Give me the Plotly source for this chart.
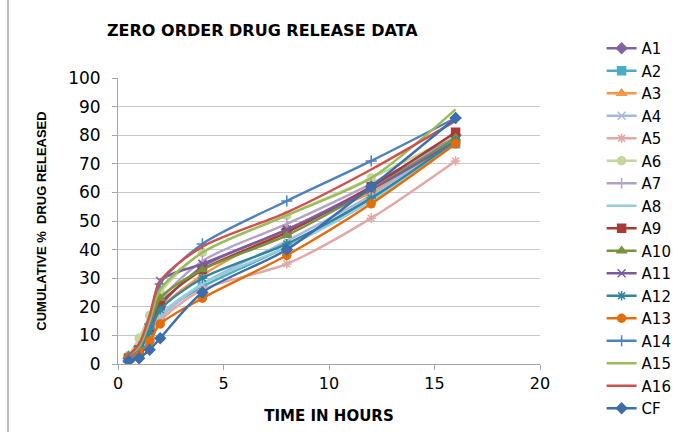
import plotly.graph_objects as go

time_h = [0.5, 1, 1.5, 2, 4, 8, 12, 16]

series_names = ["A1", "A2", "A3", "A4", "A5", "A6", "A7", "A8", "A9",
                "A10", "A11", "A12", "A13", "A14", "A15", "A16", "CF"]

A1 = [2, 5, 11, 20, 34, 47, 62, 80]
A2 = [2, 4, 9, 17, 27, 41, 58, 77]
A3 = [2, 5, 10, 19, 31, 47, 60, 78]
A4 = [2, 4, 9, 16, 28, 43, 59, 79]
A5 = [2, 4, 8, 15, 26, 35, 51, 71]
A6 = [3, 9, 17, 25, 39, 52, 65, 80]
A7 = [2, 5, 12, 22, 36, 49, 63, 79]
A8 = [2, 4, 9, 17, 28, 41, 57, 78]
A9 = [2, 5, 12, 21, 33, 46, 62, 81]
A10 = [3, 6, 13, 23, 33, 45, 61, 79]
A11 = [2, 5, 12, 29, 35, 47, 61, 78]
A12 = [2, 5, 11, 19, 30, 42, 58, 78]
A13 = [2, 4, 8, 14, 23, 38, 56, 77]
A14 = [2, 6, 14, 28, 42, 57, 71, 86]
A15 = [3, 6, 15, 26, 39, 52, 65, 89]
A16 = [3, 7, 17, 29, 41, 53, 68, 85]
CF = [1, 2, 5, 9, 25, 40, 62, 86]

values = [A1, A2, A3, A4, A5, A6, A7, A8, A9, A10, A11, A12, A13, A14, A15, A16, CF]

colors = ["#8064A2", "#4BACC6", "#F79646", "#A7B9DA", "#E0A8A6", "#C3D69B",
          "#B3A2C7", "#93CDDD", "#A83A37", "#77933C", "#7A5C9E", "#31859C",
          "#E46C0A", "#4F81BD", "#9BBB59", "#D0504D", "#3D6DAA"]
symbols = ["diamond", "square", "triangle-up", "x-thin-open", "asterisk-open",
           "circle", "line-ns-open", None, "square", "triangle-up", "x-thin-open",
           "asterisk-open", "circle", "cross-thin-open", None, None, "diamond"]

fig = go.Figure()
for name, vals, col, sym in zip(series_names, values, colors, symbols):
    if sym is None:
        mode = "lines"
        marker = dict()
    else:
        mode = "lines+markers"
        marker = dict(symbol=sym, size=8, color=col, line=dict(color=col, width=1.5))
    fig.add_trace(go.Scatter(
        x=time_h, y=vals, name=name, mode=mode,
        line=dict(color=col, width=2.4, shape="spline", smoothing=0.8),
        marker=marker, legendgroup=name,
    ))

fig.update_layout(
    width=681, height=432,
    margin=dict(l=118, r=141, t=78, b=68, autoexpand=False),
    paper_bgcolor="white", plot_bgcolor="white",
    font=dict(family="DejaVu Sans", size=15, color="#000000"),
    title=dict(text="<b>ZERO ORDER DRUG RELEASE DATA</b>",
               x=107 / 681, xanchor="left", y=1 - 30 / 432, yanchor="middle",
               font=dict(family="DejaVu Sans", size=16, color="#000000")),
    xaxis=dict(range=[0, 20], dtick=5, showgrid=False, showline=True,
               linecolor="#A6A6A6", linewidth=1, ticks="outside", ticklen=5,
               tickcolor="#A6A6A6", zeroline=False,
               tickfont=dict(family="DejaVu Sans", size=16),
               title=dict(text="<b>TIME IN HOURS</b>", standoff=18,
                          font=dict(family="DejaVu Sans", size=15))),
    yaxis=dict(range=[0, 100], dtick=10, showgrid=True, gridcolor="#C8C8C8",
               gridwidth=1, showline=True, linecolor="#A6A6A6", linewidth=1,
               ticks="outside", ticklen=5, tickcolor="#A6A6A6", zeroline=False,
               ticklabelstandoff=8,
               tickfont=dict(family="DejaVu Sans", size=17),
               title=dict(text="<b>CUMULATIVE %  DRUG RELEASED</b>", standoff=18,
                          font=dict(family="Liberation Sans Narrow, Liberation Sans", size=13))),
    legend=dict(x=1.146, xanchor="left", y=1 + 46 / 286, yanchor="top",
                font=dict(family="DejaVu Sans", size=15),
                tracegroupgap=0, itemwidth=30, bgcolor="rgba(0,0,0,0)",
                maxheight=1),
    showlegend=True,
)

fig.add_shape(type="line", xref="paper", yref="paper",
              x0=(8 - 118) / 422, x1=(8 - 118) / 422, y0=-68 / 286, y1=1 + 78 / 286,
              line=dict(color="#7F7F7F", width=1))

fig.write_html("out.html")
